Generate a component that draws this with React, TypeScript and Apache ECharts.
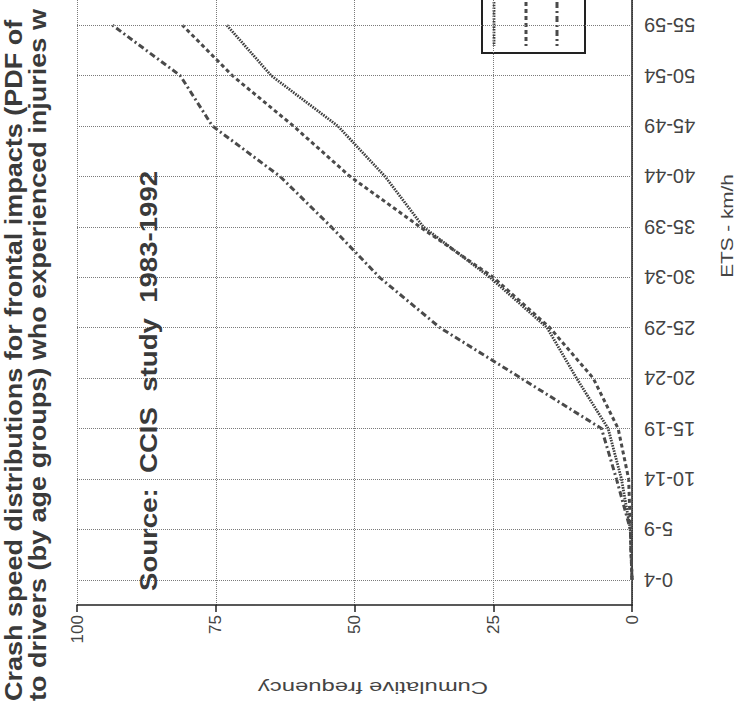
import React, { useEffect, useRef } from "react";
import * as echarts from "echarts";

const categories = ["0-4", "5-9", "10-14", "15-19", "20-24", "25-29", "30-34", "35-39", "40-44", "45-49", "50-54", "55-59"];
const dottedSeries = [0, 0.3, 1.9, 4.3, 10, 15.3, 25.6, 37.6, 44.5, 53, 65, 73];
const dashedSeries = [0, 0.3, 0.6, 2.5, 7, 14.8, 25, 38.2, 50.8, 61, 72, 81];
const dashDotSeries = [0, 0.3, 2.8, 5.5, 20, 34.6, 45.5, 54.2, 63.4, 75.6, 81.4, 93.6];
const titleLines = [
  "Crash speed distributions for frontal impacts (PDF of",
  "to drivers (by age groups) who experienced injuries w",
];
const sourceText = "Source:  CCIS  study  1983-1992";
const xName = "Cumulative frequency";
const yName = "ETS - km/h";

const FONT = "Liberation Sans, Arial, Helvetica, sans-serif";
const LINE = "#4a4a4a";
const GRID = "#7a7a7a";

export default function App() {
  const ref = useRef<HTMLDivElement>(null);
  useEffect(() => {
    document.body.style.margin = "0";
    const chart = echarts.init(ref.current!, null, { renderer: "svg" });
    const option: any = {
      animation: false,
      backgroundColor: "#ffffff",
      grid: { left: 77, right: 106, top: -8, bottom: 98, containLabel: false },
      xAxis: {
        type: "value",
        inverse: true,
        min: 0,
        max: 100,
        interval: 25,
        position: "bottom",
        axisLine: { show: true, lineStyle: { color: "#222", width: 1.5 } },
        axisTick: { show: true, length: 7, lineStyle: { color: "#222", width: 1.5 } },
        axisLabel: { rotate: 90, fontSize: 17, color: "#444", margin: 10, fontFamily: FONT },
        splitLine: { show: true, lineStyle: { type: "dotted", color: GRID, width: 1 } },
      },
      yAxis: {
        type: "category",
        data: categories,
        position: "right",
        boundaryGap: true,
        axisLine: { show: true, lineStyle: { color: "#222", width: 1.5 } },
        axisTick: { show: false },
        axisLabel: { rotate: 180, fontSize: 20, color: "#444", margin: 12, fontFamily: FONT },
        splitLine: { show: false },
      },
      series: [
        {
          name: "grid",
          type: "line",
          data: [],
          z: 1,
          silent: true,
          markLine: {
            silent: true,
            symbol: "none",
            label: { show: false },
            lineStyle: { type: "dotted", color: GRID, width: 1 },
            data: categories.map((c) => ({ yAxis: c })),
          },
        },
        {
          name: "Group A",
          type: "line",
          data: dottedSeries,
          symbol: "none",
          z: 3,
          lineStyle: { color: "#3f3f3f", width: 2.8, type: [1.6, 1.1] },
        },
        {
          name: "Group B",
          type: "line",
          data: dashedSeries,
          symbol: "none",
          z: 3,
          lineStyle: { color: LINE, width: 3, type: [4, 3] },
        },
        {
          name: "Group C",
          type: "line",
          data: dashDotSeries,
          symbol: "none",
          z: 3,
          lineStyle: { color: LINE, width: 3, type: [6, 3, 2, 3] },
        },
      ],
      graphic: [
        {
          type: "text",
          x: 14,
          y: 701,
          rotation: Math.PI / 2,
          scaleX: 1.175,
          z: 100,
          style: { text: titleLines[0], font: `bold 23px ${FONT}`, fill: "#3a3a3a", textAlign: "left", textVerticalAlign: "middle" },
        },
        {
          type: "text",
          x: 38,
          y: 701,
          rotation: Math.PI / 2,
          scaleX: 1.175,
          z: 100,
          style: { text: titleLines[1], font: `bold 23px ${FONT}`, fill: "#3a3a3a", textAlign: "left", textVerticalAlign: "middle" },
        },
        {
          type: "text",
          x: 149,
          y: 591,
          rotation: Math.PI / 2,
          scaleX: 1.2,
          z: 100,
          style: { text: sourceText, font: `bold 23px ${FONT}`, fill: "#3a3a3a", textAlign: "left", textVerticalAlign: "middle" },
        },
        {
          type: "text",
          x: 727,
          y: 226,
          rotation: Math.PI / 2,
          scaleX: 1.22,
          z: 100,
          style: { text: yName, font: `17px ${FONT}`, fill: "#444", textAlign: "center", textVerticalAlign: "middle" },
        },
        {
          type: "text",
          x: 373,
          y: 688,
          rotation: Math.PI,
          scaleX: 1.4,
          z: 100,
          style: { text: xName, font: `17px ${FONT}`, fill: "#444", textAlign: "center", textVerticalAlign: "middle" },
        },
        {
          type: "group",
          z: 100,
          children: [
            { type: "rect", shape: { x: 482, y: -5, width: 103, height: 58 }, style: { fill: "#fff", stroke: "#222", lineWidth: 2 } },
            { type: "line", shape: { x1: 494, y1: 2, x2: 494, y2: 46 }, style: { stroke: "#3f3f3f", lineWidth: 2.8, lineDash: [1.6, 1.1] } },
            { type: "line", shape: { x1: 526, y1: 2, x2: 526, y2: 46 }, style: { stroke: LINE, lineWidth: 3, lineDash: [4, 3] } },
            { type: "line", shape: { x1: 557, y1: 2, x2: 557, y2: 46 }, style: { stroke: LINE, lineWidth: 3, lineDash: [6, 3, 2, 3] } },
          ],
        },
      ],
    };
    chart.setOption(option);
    return () => chart.dispose();
  }, []);
  return <div ref={ref} style={{ width: 738, height: 703 }} />;
}
